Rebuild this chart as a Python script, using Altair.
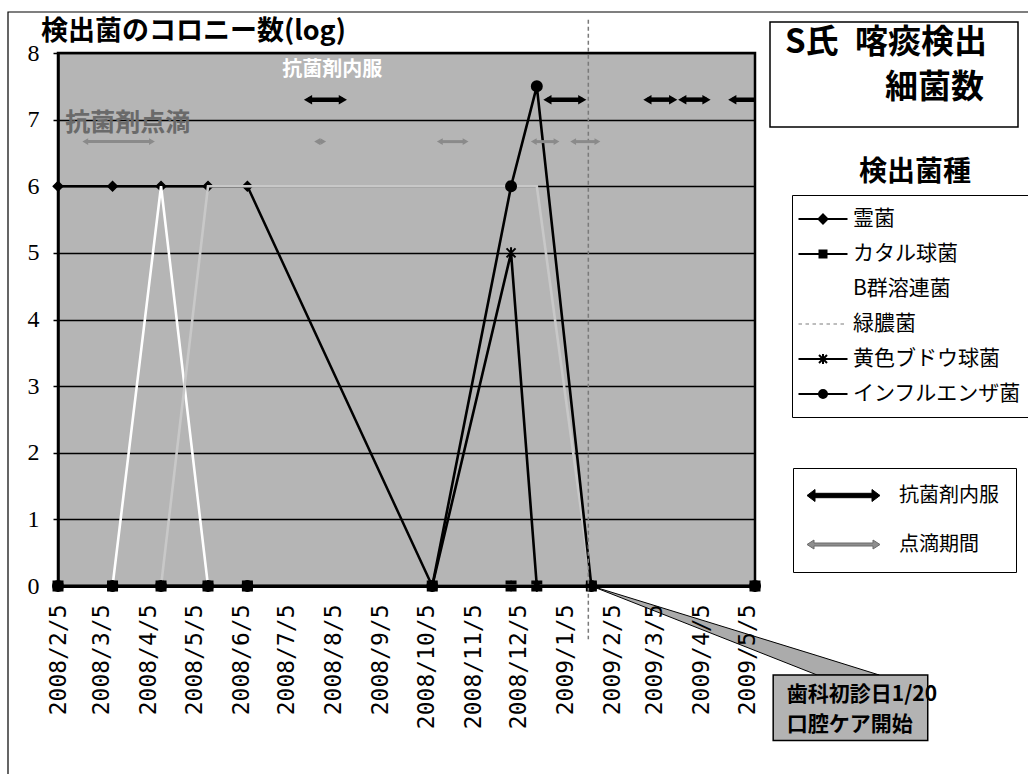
import altair as alt
import pandas as pd

# ---------------------------------------------------------------- data
# sputum culture dates
sample_dates = ["2008-02-05", "2008-03-12", "2008-04-13", "2008-05-14", "2008-06-09",
                "2008-10-09", "2008-11-30", "2008-12-17", "2009-01-22", "2009-05-10"]

species = ["霊菌", "カタル球菌", "B群溶連菌", "緑膿菌", "黄色ブドウ球菌", "インフルエンザ菌"]

# colony counts (log10) per species, one value per culture date
serratia = [6, 6, 6, 6, 6, 0, 0, 0, 0, 0]
moraxella = [0, 0, 0, 0, 0, 0, 0, 0, 0, 0]
group_b_strep = [0, 0, 6, 0, 0, 0, 0, 0, 0, 0]
pseudomonas = [0, 0, 0, 6, 6, 6, 6, 6, 0, 0]
staph_aureus = [0, 0, 0, 0, 0, 0, 5, 0, 0, 0]
haemophilus = [0, 0, 0, 0, 0, 0, 6, 7.5, 0, 0]

# oral antibiotic courses
oral_start = ["2008-07-19", "2008-12-24", "2009-02-28", "2009-03-23", "2009-04-25"]
oral_end = ["2008-08-11", "2009-01-16", "2009-03-17", "2009-04-08", "2009-05-20"]
# intravenous drip courses
drip_start = ["2008-02-23", "2008-07-25", "2008-10-14", "2008-12-15", "2009-01-10"]
drip_end = ["2008-04-07", "2008-07-29", "2008-10-31", "2008-12-30", "2009-01-26"]

dental_visit = "2009-01-20"

tick_dates = ["2008-02-05", "2008-03-05", "2008-04-05", "2008-05-05", "2008-06-05",
              "2008-07-05", "2008-08-05", "2008-09-05", "2008-10-05", "2008-11-05",
              "2008-12-05", "2009-01-05", "2009-02-05", "2009-03-05", "2009-04-05",
              "2009-05-05"]

treatments = ["抗菌剤内服", "点滴期間"]

# ---------------------------------------------------------------- helpers
JP = "Noto Sans CJK JP"


def dt(s):
    y, m, d = map(int, s.split("-"))
    return alt.DateTime(year=y, month=m, date=d, utc=True)


rows = []
for name, series in zip(species, [serratia, moraxella, group_b_strep,
                                  pseudomonas, staph_aureus, haemophilus]):
    for d, v in zip(sample_dates, series):
        rows.append({"series": name, "date": d, "v": v})
counts = pd.DataFrame(rows)

x_scale = alt.Scale(type="utc", domain=[dt(sample_dates[0]), dt(sample_dates[-1])], nice=False)
x_axis = alt.Axis(values=[dt(t) for t in tick_dates], format="%Y/%-m/%-d",
                  labelAngle=270, labelFont="DejaVu Sans Mono", labelFontSize=23,
                  labelColor="black", labelPadding=18, labelOverlap=False,
                  labelFlush=False, ticks=False, domainColor="black", domainWidth=3,
                  grid=False, title=None, zindex=1)
y_axis = alt.Axis(values=list(range(9)), format="d", labelFont="Liberation Sans Narrow",
                  labelFontSize=24, labelColor="black", labelPadding=14, tickSize=5,
                  tickColor="black", tickWidth=1.5, domainColor="black", domainWidth=2.5,
                  grid=True, gridColor="black", gridWidth=1.5, title=None, zindex=0)

X = alt.X("date:T", scale=x_scale, axis=x_axis)
X_end = alt.X("date2:T", scale=x_scale, axis=x_axis)
Y = alt.Y("v:Q", scale=alt.Scale(domain=[0, 8], nice=False, zero=False), axis=y_axis)

ASTERISK = "M-0.9,-0.9L0.9,0.9M-0.9,0.9L0.9,-0.9M0,-1.15V1.15"
marker_scale = alt.Scale(domain=["霊菌", "カタル球菌", "黄色ブドウ球菌", "インフルエンザ菌"],
                         range=["diamond", "square", ASTERISK, "circle"])

# ---------------------------------------------------------------- series
first = counts[counts.series.isin(species[:2])]
later = counts[counts.series.isin(species[2:])]
later_marked = counts[counts.series.isin(species[4:])]

lines_a = alt.Chart(first).mark_line(color="black", strokeWidth=2.5).encode(
    x=X, y=Y, detail="series:N")
points_a = alt.Chart(first).mark_point(
    filled=True, color="black", stroke="black", strokeWidth=1.5, size=90, opacity=1
).encode(x=X, y=Y, shape=alt.Shape("series:N", scale=marker_scale, legend=None))

lines_b = alt.Chart(later).mark_line(strokeWidth=2.6).encode(
    x=X, y=Y,
    color=alt.Color("series:N", legend=None,
                    scale=alt.Scale(domain=species[2:],
                                    range=["white", "#c8c8c8", "black", "black"])))
points_b = alt.Chart(later_marked).mark_point(
    filled=True, color="black", stroke="black", strokeWidth=2, size=100, opacity=1
).encode(x=X, y=Y, shape=alt.Shape("series:N", scale=marker_scale, legend=None))

# ---------------------------------------------------------------- dental visit marker
visit = alt.Chart(pd.DataFrame({"date": [dental_visit], "v": [8.5], "v2": [-0.8]})).mark_rule(
    color="#7a7a7a", strokeWidth=1.5, strokeDash=[4, 3]).encode(x=X, y=Y, y2=alt.Y2("v2"))


# ---------------------------------------------------------------- treatment arrows
def arrows(starts, ends, level, color, width, head):
    df = pd.DataFrame({"date": starts, "date2": ends})
    df["v"] = level
    base = alt.Chart(df)
    shaft = base.mark_rule(color=color, strokeWidth=width, clip=True).encode(
        x=X, x2=alt.X2("date2"), y=Y)
    left = base.mark_point(shape="triangle-left", filled=True, color=color, size=head,
                           opacity=1, clip=True).encode(x=X, y=Y)
    right = base.mark_point(shape="triangle-right", filled=True, color=color, size=head,
                            opacity=1, clip=True).encode(x=X_end, y=Y)
    return [shaft, left, right]


oral = arrows(oral_start, oral_end, 7.3, "black", 4.5, 90)
drip = arrows(drip_start, drip_end, 6.67, "#8a8a8a", 3, 45)

drip_note = alt.Chart(pd.DataFrame({"date": ["2008-03-22"], "v": [6.95], "label": ["抗菌剤点滴"]})).mark_text(
    font=JP, fontSize=25, fontWeight="bold", color="#6a6a6a", baseline="middle"
).encode(x=X, y=Y, text="label:N")
oral_note = alt.Chart(pd.DataFrame({"date": ["2008-08-04"], "v": [7.75], "label": ["抗菌剤内服"]})).mark_text(
    font=JP, fontSize=20, fontWeight="bold", color="white", baseline="middle"
).encode(x=X, y=Y, text="label:N")

# ---------------------------------------------------------------- callout
wedge = alt.Chart(pd.DataFrame({"date": ["2009-01-22", "2009-06-20", "2009-07-31"],
                                "v": [0, -1.336, -1.336], "v2": [0, -1.045, -1.336]})).mark_area(
    color="#ababab", stroke="black", strokeWidth=1, opacity=1).encode(x=X, y=Y, y2=alt.Y2("v2"))
callout_box = alt.Chart(pd.DataFrame({"date": ["2009-05-22"], "date2": ["2009-09-01"],
                                      "v": [-1.336], "v2": [-2.32]})).mark_rect(
    fill="#b3b3b3", stroke="black", strokeWidth=1.5).encode(
    x=X, x2=alt.X2("date2"), y=Y, y2=alt.Y2("v2"))
callout_text = alt.Chart(pd.DataFrame({"date": ["2009-05-31", "2009-05-31"], "v": [-1.64, -2.09],
                                       "label": ["歯科初診日1/20", "口腔ケア開始"]})).mark_text(
    font=JP, fontSize=21, fontWeight="bold", color="black", align="left", baseline="middle"
).encode(x=X, y=Y, text="label:N")

# ---------------------------------------------------------------- legends
legend_paths = [
    "M-2.45,0H2.45M0,-0.45L0.45,0L0,0.45L-0.45,0Z",
    "M-2.45,0H2.45M-0.35,-0.35H0.35V0.35H-0.35Z",
    "M-2.45,0H2.45",
    "M-2.45,0H-2.1M-1.75,0H-1.4M-1.05,0H-0.7M-0.35,0H0M0.35,0H0.7M1.05,0H1.4M1.75,0H2.1",
    "M-2.45,0H2.45M-0.4,-0.4L0.4,0.4M-0.4,0.4L0.4,-0.4M0,-0.5V0.5",
    "M-2.45,0H2.45M0.4,0A0.4,0.4 0 1,1 -0.4,0A0.4,0.4 0 1,1 0.4,0Z",
]
species_legend = alt.Legend(title=None, orient="none", legendX=734, legendY=142,
                            strokeColor="black", fillColor="white", padding=13,
                            symbolSize=400, symbolStrokeWidth=2, symbolOffset=7,
                            labelOffset=19, labelFont=JP, labelFontSize=21,
                            labelColor="black", labelLimit=300, rowPadding=14)
legend_a = alt.Chart(pd.DataFrame({"series": species, "date": sample_dates[0],
                                   "v": [None] * len(species)})).mark_point(
    filled=True, opacity=1).encode(
    x=X, y=Y,
    shape=alt.Shape("series:N", scale=alt.Scale(domain=species, range=legend_paths),
                    legend=species_legend),
    fill=alt.Fill("series:N", legend=species_legend,
                  scale=alt.Scale(domain=species,
                                  range=["black", "black", "white", "transparent", "black", "black"])),
    stroke=alt.Stroke("series:N", legend=species_legend,
                      scale=alt.Scale(domain=species,
                                      range=["black", "black", "white", "#bdbdbd", "black", "black"])))

arrow_paths = [
    "M-3.65,0L-2.85,-0.6L-2.85,-0.22L2.85,-0.22L2.85,-0.6L3.65,0L2.85,0.6L2.85,0.22L-2.85,0.22L-2.85,0.6Z",
    "M-3.65,0L-2.95,-0.45L-2.95,-0.15L2.95,-0.15L2.95,-0.45L3.65,0L2.95,0.45L2.95,0.15L-2.95,0.15L-2.95,0.45Z",
]
treat_legend = alt.Legend(title=None, orient="none", legendX=735, legendY=415,
                          strokeColor="black", fillColor="white", padding=17,
                          symbolSize=400, symbolStrokeWidth=1, symbolOffset=23,
                          labelOffset=45, labelFont=JP, labelFontSize=20,
                          labelColor="black", labelLimit=300, rowPadding=28,
                          labelExpr="datum.label == '点滴期間' ? ' ' + datum.label + '              ' : datum.label + '              '")
legend_b = alt.Chart(pd.DataFrame({"kind": treatments, "date": sample_dates[0],
                                   "v": [None] * len(treatments)})).mark_point(
    filled=True, opacity=1).encode(
    x=X, y=Y,
    shape=alt.Shape("kind:N", scale=alt.Scale(domain=treatments, range=arrow_paths),
                    legend=treat_legend),
    fill=alt.Fill("kind:N", scale=alt.Scale(domain=treatments, range=["black", "#8e8e8e"]),
                  legend=treat_legend),
    stroke=alt.Stroke("kind:N", scale=alt.Scale(domain=treatments, range=["black", "#6a6a6a"]),
                      legend=treat_legend))

# ---------------------------------------------------------------- frame, titles
one = pd.DataFrame({"k": [0]})
frame = alt.Chart(one).mark_rect(fillOpacity=0, stroke="black", strokeWidth=1.2).encode(
    x=alt.value(-50), x2=alt.value(990), y=alt.value(-41), y2=alt.value(740))
title_box = alt.Chart(one).mark_rect(fill="white", stroke="black", strokeWidth=1.5).encode(
    x=alt.value(712), x2=alt.value(960), y=alt.value(-31), y2=alt.value(74))


def label(text, x, y, size, align="left"):
    return alt.Chart(pd.DataFrame({"t": [text]})).mark_text(
        font=JP, fontSize=size, fontWeight="bold", color="black", align=align,
        baseline="middle").encode(x=alt.value(x), y=alt.value(y), text="t:N")


y_title = label("検出菌のコロニー数(log)", -17, -21, 27)
title_1 = label("S氏\u2002喀痰検出", 727, -10, 33)
title_2 = label("細菌数", 827, 35, 33)
legend_title = label("検出菌種", 857, 120, 28, align="center")

chart = alt.layer(
    lines_a, points_a, lines_b, points_b, visit, *drip, *oral, drip_note, oral_note,
    wedge, callout_box, callout_text, legend_a, legend_b,
    frame, title_box, title_1, title_2, legend_title, y_title,
).resolve_scale(
    shape="independent", fill="independent", stroke="independent", color="independent"
).properties(
    width=697, height=533,
    padding={"left": 58, "top": 53, "right": 273, "bottom": 188},
    autosize=alt.AutoSizeParams(type="none"),
    background="white",
).configure_view(
    fill="#b5b5b5", stroke="black", strokeWidth=2.5
)

chart.save("out.html", embed_options={"renderer": "svg", "actions": False})
